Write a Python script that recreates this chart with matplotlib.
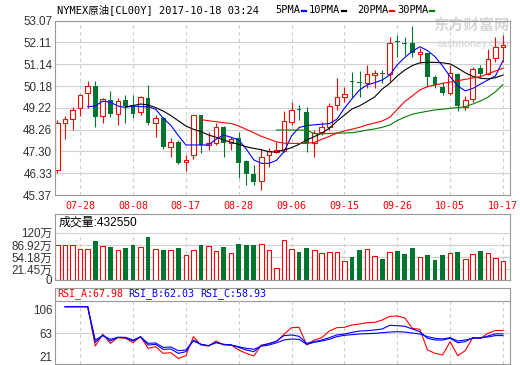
"""
NYMEX crude oil daily K-line with moving averages, volume and RSI panels.
"""

import matplotlib
matplotlib.use('Agg')
import matplotlib.pyplot as plt
from matplotlib.lines import Line2D
import numpy as np

nan = np.nan

# Data
# -----------------------------------------------------------------------------

date_labels = ['07-28', '08-08', '08-17', '08-28', '09-06', '09-15', '09-26', '10-05', '10-17']
date_idx = [3, 10, 17, 24, 31, 38, 45, 52, 59]

opens = [46.48, 48.54, 48.71, 49.20, 49.86, 50.19, 48.86, 49.57, 48.95, 49.57,
         49.32, 49.02, 49.64, 48.54, 48.76, 47.50, 47.73, 46.82, 47.14, 48.90,
         47.58, 47.65, 48.39, 47.68, 47.88, 46.89, 46.30, 45.99, 47.14, 47.28,
         47.30, 48.61, 49.15, 49.05, 47.65, 48.14, 48.39, 49.35, 49.71, 50.40,
         50.38, 50.30, 50.67, 50.77, 50.72, 52.16, 52.09, 52.07, 51.60, 51.63,
         50.57, 50.16, 49.89, 50.70, 49.27, 49.60, 50.97, 50.72, 51.41, 51.92]
highs = [48.68, 48.86, 49.25, 49.82, 50.41, 50.41, 49.67, 49.97, 49.67, 49.79,
         49.79, 49.74, 50.23, 48.90, 48.83, 47.88, 47.80, 47.14, 48.92, 48.92,
         48.17, 48.54, 48.42, 47.95, 48.17, 46.92, 46.70, 47.39, 47.43, 47.70,
         49.08, 49.50, 49.35, 49.27, 48.22, 48.61, 49.42, 50.53, 50.16, 50.82,
         50.86, 51.11, 50.90, 50.89, 52.36, 52.42, 52.34, 52.85, 51.85, 51.65,
         50.67, 50.38, 51.11, 50.75, 49.74, 51.04, 51.11, 51.81, 52.34, 52.42]
lows = [46.36, 47.84, 48.24, 48.87, 49.20, 48.39, 48.54, 48.83, 48.46, 48.54,
        48.76, 48.90, 48.46, 47.95, 47.40, 47.04, 46.75, 46.45, 46.95, 47.21,
        47.36, 47.58, 47.06, 47.36, 46.11, 45.81, 45.81, 45.59, 46.62, 47.22,
        47.25, 48.46, 48.68, 47.27, 47.04, 48.02, 48.24, 49.13, 49.49, 49.71,
        49.71, 50.08, 50.08, 50.30, 50.38, 51.48, 51.55, 51.48, 51.22, 50.16,
        50.08, 49.79, 49.79, 49.10, 49.14, 49.49, 50.60, 50.65, 51.26, 51.24]
closes = [48.54, 48.71, 49.13, 49.79, 50.19, 48.80, 49.60, 48.94, 49.54, 49.32,
          48.95, 49.71, 48.54, 48.76, 47.50, 47.70, 46.80, 46.92, 48.90, 47.58,
          47.65, 48.36, 47.65, 47.85, 46.80, 46.29, 45.96, 47.06, 47.31, 47.36,
          48.62, 49.13, 49.11, 47.65, 48.10, 48.39, 49.30, 49.69, 49.83, 50.36,
          50.30, 50.72, 50.78, 50.73, 52.10, 52.12, 52.05, 51.63, 51.70, 50.60,
          50.23, 49.89, 50.75, 49.30, 49.57, 50.92, 50.72, 51.36, 51.90, 52.00]

ma5 = [nan, nan, nan, nan, 49.27, 49.30, 49.52, 49.47, 49.30, 49.24,
       49.30, 49.27, 49.27, 49.16, 48.76, 48.45, 48.00, 47.58, 47.58, 47.58,
       47.58, 47.83, 48.02, 47.92, 47.80, 47.40, 46.92, 46.77, 46.77, 46.90,
       47.28, 47.98, 48.35, 48.44, 48.47, 48.50, 48.52, 48.72, 49.20, 49.62,
       50.01, 50.23, 50.33, 50.45, 50.67, 51.12, 51.45, 51.72, 51.92, 51.75,
       51.48, 51.07, 50.60, 50.19, 49.97, 50.08, 50.27, 50.45, 50.63, 51.30]
ma10 = [nan, nan, nan, nan, nan, nan, nan, nan, nan, 49.27,
        49.32, 49.39, 49.35, 49.23, 49.08, 48.88, 48.65, 48.42, 48.27, 48.17,
        48.02, 47.92, 47.80, 47.70, 47.61, 47.50, 47.43, 47.37, 47.28, 47.27,
        47.36, 47.46, 47.61, 47.80, 47.95, 48.10, 48.32, 48.63, 48.90, 49.17,
        49.31, 49.50, 49.70, 50.05, 50.30, 50.63, 50.89, 51.09, 51.21, 51.23,
        51.23, 51.21, 51.16, 50.98, 50.77, 50.61, 50.53, 50.50, 50.55, 50.67]
ma20 = [nan] * 19 + [
        48.70,
        48.65, 48.61, 48.56, 48.53, 48.42, 48.27, 48.12, 47.96, 47.84, 47.72,
        47.66, 47.65, 47.65, 47.65, 47.69, 47.83, 47.96, 48.10, 48.20, 48.28,
        48.36, 48.47, 48.55, 48.64, 48.80, 49.15, 49.50, 49.75, 50.01, 50.16,
        50.23, 50.30, 50.36, 50.42, 50.48, 50.54, 50.60, 50.72, 50.85, 50.97]
ma30 = [nan] * 29 + [
        48.24,
        48.24, 48.24, 48.24, 48.24, 48.08, 48.07, 48.09, 48.10, 48.11, 48.12,
        48.17, 48.24, 48.29, 48.36, 48.46, 48.66, 48.81, 48.94, 49.01, 49.07,
        49.13, 49.16, 49.20, 49.23, 49.27, 49.39, 49.52, 49.69, 49.93, 50.25]

# volume in units of 万
volume = [86.9, 86.9, 86.9, 76.2, 76.2, 97.7, 84.2, 81.6, 73.4, 78.8,
          87.7, 81.6, 108.4, 76.2, 73.4, 73.4, 78.8, 60.1, 73.4, 86.9,
          84.2, 70.8, 82.4, 65.4, 90.5, 87.7, 87.7, 89.6, 72.6, 24.1,
          99.5, 75.2, 68.1, 78.8, 72.6, 65.4, 67.3, 67.3, 43.9, 54.7,
          73.4, 75.2, 56.6, 49.2, 67.3, 70.8, 62.7, 78.8, 53.8, 60.1,
          46.6, 60.1, 65.4, 67.3, 48.3, 62.7, 70.8, 65.4, 51.1, 43.3]

rsi_a = [nan, 110.7, 110.7, 110.7, 110.7, 40.2, 61.2, 45.0, 55.2, 54.0,
         46.2, 57.0, 36.1, 39.0, 27.1, 28.3, 18.1, 22.9, 57.0, 42.0,
         40.2, 49.2, 42.0, 42.0, 33.1, 27.1, 22.3, 42.0, 44.4, 48.5,
         61.2, 73.1, 73.7, 42.0, 51.0, 55.2, 67.1, 73.1, 73.7, 77.9,
         79.7, 82.0, 82.6, 86.8, 93.4, 94.0, 90.4, 71.9, 70.1, 33.1,
         27.1, 24.1, 48.0, 22.9, 31.9, 55.2, 54.0, 62.9, 68.0, 68.0]
rsi_b = [nan, 110.7, 110.7, 110.7, 110.7, 46.8, 60.0, 49.2, 55.8, 55.2,
         49.2, 57.0, 42.0, 43.2, 34.3, 34.9, 27.1, 30.1, 51.0, 43.2,
         40.8, 46.8, 43.2, 42.0, 37.8, 33.1, 30.1, 41.0, 44.4, 49.0,
         58.8, 60.0, 57.6, 45.0, 48.0, 51.0, 55.2, 60.0, 61.7, 64.7,
         67.1, 67.7, 68.9, 70.7, 77.3, 76.7, 75.5, 70.7, 65.9, 54.0,
         51.0, 51.0, 54.0, 46.2, 48.0, 55.2, 54.0, 58.2, 62.0, 62.0]
rsi_c = [nan, 110.7, 110.7, 110.7, 110.7, 51.0, 58.8, 52.2, 55.8, 55.8,
         51.0, 56.4, 45.1, 45.6, 37.8, 38.5, 31.9, 33.1, 49.2, 43.2,
         40.8, 46.2, 43.2, 42.0, 39.0, 36.1, 34.3, 40.0, 42.0, 46.0,
         51.0, 52.8, 52.2, 43.2, 46.8, 49.2, 52.2, 57.0, 59.4, 60.6,
         61.8, 62.3, 62.9, 64.1, 65.3, 65.9, 65.3, 63.5, 61.8, 57.0,
         54.0, 52.8, 55.2, 49.2, 51.0, 54.0, 55.2, 56.4, 58.9, 58.9]

price_ticks = [45.37, 46.33, 47.30, 48.26, 49.22, 50.18, 51.14, 52.11, 53.07]
vol_ticks = [21.45, 54.18, 86.92, 120]
vol_tick_labels = ['21.45万', '54.18万', '86.92万', '120万']
rsi_ticks = [21, 63, 106]

# Plot
# -----------------------------------------------------------------------------

W, H = 520, 365
RED = '#ff0000'
GREEN = '#00752f'
BLUE = '#0000ff'
FRAME = '#999999'
GRID = '#d0d0d0'
MONO = ['DejaVu Sans Mono', 'Noto Sans CJK SC']
SANS = ['Liberation Sans', 'Noto Sans CJK SC']
VOL_FLOOR = -7.3   # the volume panel's floor sits a little under its 0 level


def fx(px):
    return px / W


def fy(py):
    return 1 - py / H


def _frame(ax):
    for s in ax.spines.values():
        s.set_color(FRAME)
        s.set_linewidth(0.8)
    ax.tick_params(length=0, labelsize=8.4, labelcolor='#333333', pad=2)
    for t in ax.get_yticklabels():
        t.set_family(SANS)


fig = plt.figure(figsize=(W / 100, H / 100), dpi=100)
ax1 = fig.add_axes([fx(55), fy(195), fx(455), 174.3 / H])
ax2 = fig.add_axes([fx(55), fy(280), fx(455), 65.7 / H])
ax3 = fig.add_axes([fx(55), fy(364), fx(455), 76.3 / H])

x = np.arange(len(opens))
o, h, l, c = (np.array(v) for v in (opens, highs, lows, closes))
up = c >= o
lo = np.minimum(o, c)
hi = np.maximum(o, c)
ht = np.maximum(hi - lo, 0.02)
bw = 0.62

# candles
ax1.vlines(x[up], hi[up], h[up], color=RED, lw=0.8, zorder=2)
ax1.vlines(x[up], l[up], lo[up], color=RED, lw=0.8, zorder=2)
ax1.vlines(x[~up], l[~up], h[~up], color=GREEN, lw=0.8, zorder=2)
ax1.bar(x[up], ht[up], bottom=lo[up], width=bw, facecolor='white',
        edgecolor=RED, lw=0.8, zorder=2)
ax1.bar(x[~up], ht[~up], bottom=lo[~up], width=bw, color=GREEN, lw=0, zorder=2)

ax1.plot(x, ma5, color=BLUE, lw=0.8, zorder=3)
ax1.plot(x, ma10, color='black', lw=0.8, zorder=3)
ax1.plot(x, ma20, color=RED, lw=0.8, zorder=3)
ax1.plot(x, ma30, color='#008000', lw=0.8, zorder=3)

ax1.set_xlim(-0.33, 59.93)
ax1.set_ylim(price_ticks[0], price_ticks[-1])
ax1.set_yticks(price_ticks)
ax1.set_yticklabels(['%.2f' % v for v in price_ticks])
ax1.set_xticks(date_idx)
ax1.set_xticklabels(date_labels)
ax1.grid(axis='y', color=GRID, lw=0.8)
ax1.grid(axis='x', color='#cccccc', lw=0.8, linestyle=(0, (3, 3)))
ax1.set_axisbelow(True)
_frame(ax1)
ax1.tick_params(axis='x', pad=4, labelcolor=RED)
for t in ax1.get_xticklabels():
    t.set_family(MONO)
    t.set_fontsize(7.2)

# watermark
ax1.text(0.998, 0.972, '东方财富网', transform=ax1.transAxes, ha='right',
         va='center', fontsize=11, fontweight='bold', color='#d6d6d6',
         family=SANS, zorder=1)
ax1.text(0.998, 0.868, 'eastmoney.com', transform=ax1.transAxes, ha='right',
         va='center', fontsize=7, fontweight='bold', color='#dcdcdc',
         family=SANS, zorder=1)

# volume
vol = np.array(volume)
ax2.bar(x[up], vol[up] - VOL_FLOOR, bottom=VOL_FLOOR, width=bw,
        facecolor='white', edgecolor=RED, lw=0.8, zorder=2)
ax2.bar(x[~up], vol[~up] - VOL_FLOOR, bottom=VOL_FLOOR, width=bw,
        color=GREEN, lw=0, zorder=2)
ax2.set_xlim(ax1.get_xlim())
ax2.set_ylim(VOL_FLOOR, 169.5)
ax2.set_yticks([VOL_FLOOR] + vol_ticks)
ax2.set_yticklabels(['0'] + vol_tick_labels)
ax2.set_xticks([])
ax2.grid(axis='y', color=GRID, lw=0.8)
ax2.vlines(date_idx, VOL_FLOOR, 120, color='#cccccc', lw=0.8,
           linestyle=(0, (3, 3)), zorder=1)
ax2.set_axisbelow(True)
_frame(ax2)
ax2.text(0.007, 0.868, '成交量:' + '432550', transform=ax2.transAxes,
         va='center', fontsize=8.6, family=SANS, color='black')

# RSI
ax3.plot(x, rsi_a, color=RED, lw=0.8, zorder=3)
ax3.plot(x, rsi_b, color=BLUE, lw=0.8, zorder=3)
ax3.plot(x, rsi_c, color=BLUE, lw=0.8, zorder=3)
ax3.set_xlim(ax1.get_xlim())
ax3.set_ylim(8, 144.7)
ax3.set_yticks(rsi_ticks)
ax3.set_yticklabels([str(v) for v in rsi_ticks])
ax3.set_xticks([])
ax3.axhline(63, color=GRID, lw=0.8, zorder=1)
ax3.axhline(120.9, color=FRAME, lw=0.8, zorder=1)
ax3.vlines(date_idx, 8, 120.9, color='#cccccc', lw=0.8, linestyle=(0, (3, 3)), zorder=1)
_frame(ax3)
for label, val, col, px in [('RSI_A', 67.98, RED, 57), ('RSI_B', 62.03, BLUE, 128),
                            ('RSI_C', 58.93, BLUE, 200)]:
    fig.text(fx(px), fy(293.5), '%s:%.2f' % (label, val), color=col,
             fontsize=7.2, family=MONO, va='center')

# header
fig.text(fx(57), fy(10), 'NYMEX原油[CL00Y] 2017-10-18 03:24', fontsize=7.5,
         family=MONO, va='center', color='black')
legend = [('5PMA', 275, BLUE), ('10PMA', 309, 'black'),
          ('20PMA', 357, RED), ('30PMA', 397, '#008000')]
for name, px, col in legend:
    fig.text(fx(px), fy(10), name, fontsize=7.5, family=MONO, va='center')
    end = px + len(name) * 6.25 + 2
    fig.add_artist(Line2D([fx(end), fx(end + 4)], [fy(10.5), fy(10.5)],
                          transform=fig.transFigure, color=col, lw=1.6))

fig.savefig('out.png', dpi=100)
